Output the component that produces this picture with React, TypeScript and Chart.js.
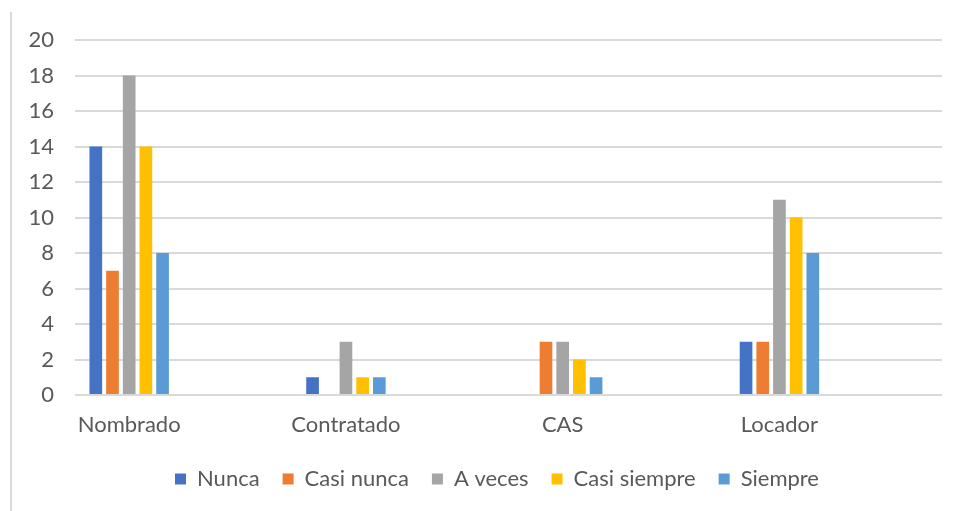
import React, { useEffect, useRef } from "react";
import { Chart, registerables } from "chart.js";

Chart.register(...registerables);

const categories = ["Nombrado", "Contratado", "CAS", "Locador"];
const seriesNames = ["Nunca", "Casi nunca", "A veces", "Casi siempre", "Siempre"];
const nunca = [14, 1, 0, 3];
const casiNunca = [7, 0, 3, 3];
const aVeces = [18, 3, 3, 11];
const casiSiempre = [14, 1, 2, 10];
const siempre = [8, 1, 1, 8];
const yTicks = [0, 2, 4, 6, 8, 10, 12, 14, 16, 18, 20];

const colors = ["#4472C4", "#ED7D31", "#A5A5A5", "#FFC000", "#5B9BD5"];
const FONT = "Lato";
const TEXT = "#595959";
const LEGEND_SHIFT = 26;

const shiftLegend = {
  id: "shiftLegend",
  afterLayout(chart: any) {
    const lg = chart.legend;
    if (lg) {
      lg.left += LEGEND_SHIFT;
      lg.right += LEGEND_SHIFT;
    }
  },
};

export default function App() {
  const ref = useRef<HTMLCanvasElement | null>(null);

  useEffect(() => {
    if (!ref.current) return;
    const seriesValues = [nunca, casiNunca, aVeces, casiSiempre, siempre];
    const chart = new Chart(ref.current, {
      type: "bar",
      data: {
        datasets: seriesNames.map((name, si) => ({
          label: name,
          data: seriesValues[si].map((v, i) => ({ x: i, y: v })),
          backgroundColor: colors[si],
          borderWidth: 0,
          barPercentage: 0.76,
          categoryPercentage: 0.385,
        })),
      },
      plugins: [shiftLegend],
      options: {
        animation: false,
        responsive: false,
        maintainAspectRatio: false,
        layout: { padding: { top: 40, right: 20, left: 0, bottom: 11 } },
        plugins: {
          legend: {
            position: "bottom",
            labels: {
              boxWidth: 11,
              boxHeight: 11,
              padding: 23,
              color: TEXT,
              font: { family: FONT, size: 22 },
            },
          },
          tooltip: { enabled: false },
        },
        scales: {
          x: {
            type: "linear",
            offset: false,
            min: -0.25,
            max: 3.75,
            afterBuildTicks: (axis: any) => {
              axis.ticks = categories.map((_, i) => ({ value: i }));
            },
            afterFit: (axis: any) => {
              axis.height = 50;
            },
            grid: { display: false, drawTicks: false, offset: false },
            border: { display: false },
            ticks: {
              color: TEXT,
              font: { family: FONT, size: 22 },
              padding: 17,
              maxRotation: 0,
              autoSkip: false,
              callback: (v: any) => categories[Number(v)] ?? "",
            },
          },
          y: {
            min: 0,
            max: 20,
            afterBuildTicks: (axis: any) => {
              axis.ticks = yTicks.map((v) => ({ value: v }));
            },
            afterFit: (axis: any) => {
              axis.width = 75;
            },
            grid: { color: "#D9D9D9", lineWidth: 2, drawTicks: false },
            border: { display: false },
            ticks: {
              color: TEXT,
              font: { family: FONT, size: 22 },
              padding: 21,
            },
          },
        },
      },
    });
    return () => chart.destroy();
  }, []);

  return (
    <div style={{ position: "fixed", left: 0, top: 0, width: 962, height: 511, background: "#fff" }}>
      <div style={{ position: "absolute", left: 10, top: 12, width: 2, height: 499, background: "#D9D9D9" }} />
      <canvas ref={ref} width={962} height={511} style={{ position: "absolute", left: 0, top: 0, width: 962, height: 511 }} />
    </div>
  );
}
